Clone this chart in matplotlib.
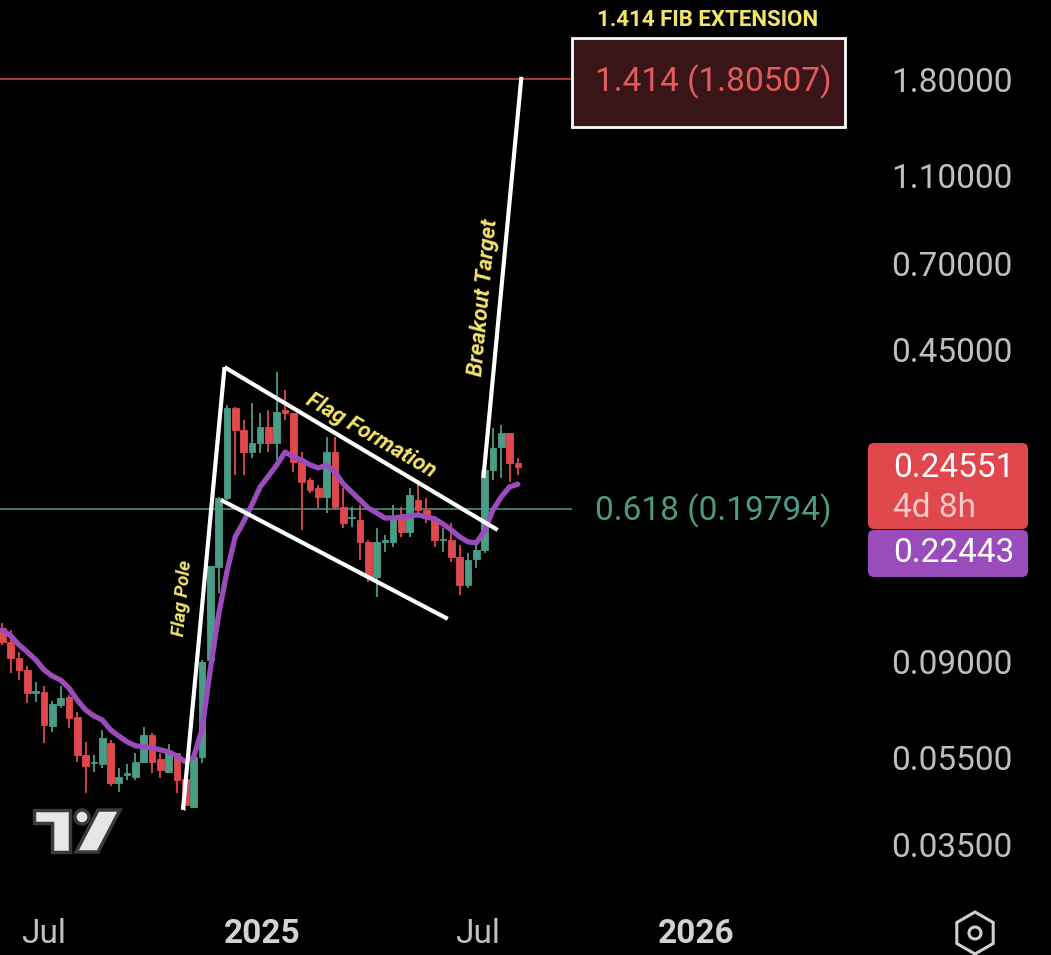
import matplotlib
matplotlib.use('Agg')
import matplotlib.pyplot as plt
import matplotlib.dates as mdates
from matplotlib.patches import Rectangle, FancyBboxPatch, Polygon, Circle, RegularPolygon
from matplotlib.ticker import NullLocator
import numpy as np
import pandas as pd

plt.rcParams['font.family'] = ['Roboto', 'DejaVu Sans']

# weekly candles
opens = [0.1070, 0.0996, 0.0917, 0.0862, 0.0765, 0.0769, 0.0646, 0.0719, 0.0750, 0.0676,
         0.0557, 0.0534, 0.0531, 0.0592, 0.0481, 0.0502, 0.0497, 0.0537, 0.0617, 0.0545,
         0.0510, 0.0562, 0.0492, 0.0425, 0.0550, 0.0908, 0.1467, 0.2090, 0.3322, 0.2967,
         0.2648, 0.2775, 0.3013, 0.2775, 0.3288, 0.3237, 0.2516, 0.2293, 0.2201, 0.2101,
         0.2648, 0.1995, 0.1885, 0.1866, 0.1667, 0.1391, 0.1667, 0.1667, 0.1904, 0.1754,
         0.2069, 0.1965, 0.1885, 0.1684, 0.1684, 0.1542, 0.1334, 0.1527, 0.1599, 0.2414,
         0.2717, 0.2921, 0.2503]
closes = [0.0996, 0.0917, 0.0862, 0.0765, 0.0773, 0.0649, 0.0723, 0.0746, 0.0673, 0.0557,
          0.0526, 0.0537, 0.0607, 0.0481, 0.0497, 0.0507, 0.0537, 0.0617, 0.0537, 0.0515,
          0.0565, 0.0489, 0.0430, 0.0550, 0.0899, 0.1473, 0.2090, 0.3322, 0.2967, 0.2648,
          0.2775, 0.3013, 0.2775, 0.3254, 0.3237, 0.2516, 0.2270, 0.2178, 0.2101, 0.2648,
          0.1995, 0.1837, 0.1895, 0.1667, 0.1391, 0.1667, 0.1684, 0.1895, 0.1754, 0.2122,
          0.1965, 0.1885, 0.1684, 0.1693, 0.1542, 0.1334, 0.1519, 0.1599, 0.2414, 0.2704,
          0.2921, 0.2503, 0.24551]
highs = [0.1098, 0.1059, 0.0945, 0.0880, 0.0810, 0.0793, 0.0734, 0.0793, 0.0757, 0.0694,
         0.0595, 0.0557, 0.0633, 0.0601, 0.0520, 0.0531, 0.0562, 0.0643, 0.0623, 0.0562,
         0.0589, 0.0562, 0.0497, 0.0571, 0.0908, 0.1473, 0.2101, 0.3374, 0.3340, 0.3124,
         0.3409, 0.3237, 0.3288, 0.3999, 0.3645, 0.3237, 0.2648, 0.2317, 0.2235, 0.2861,
         0.2861, 0.2200, 0.1995, 0.2016, 0.1684, 0.1790, 0.1728, 0.2016, 0.1995, 0.2200,
         0.2293, 0.2090, 0.1904, 0.1790, 0.1837, 0.1640, 0.1574, 0.1658, 0.2516, 0.2998,
         0.3045, 0.2921, 0.2568]
lows = [0.0980, 0.0849, 0.0818, 0.0727, 0.0731, 0.0592, 0.0626, 0.0708, 0.0640, 0.0537,
        0.0457, 0.0510, 0.0520, 0.0474, 0.0459, 0.0489, 0.0489, 0.0534, 0.0507, 0.0494,
        0.0507, 0.0457, 0.0417, 0.0423, 0.0534, 0.0884, 0.1281, 0.2069, 0.2353, 0.2353,
        0.2568, 0.2635, 0.2648, 0.2542, 0.3124, 0.2389, 0.1772, 0.2144, 0.1985, 0.1935,
        0.1965, 0.1790, 0.1800, 0.1519, 0.1356, 0.1255, 0.1583, 0.1624, 0.1710, 0.1710,
        0.1895, 0.1837, 0.1624, 0.1583, 0.1503, 0.1268, 0.1315, 0.1458, 0.1574, 0.2293,
        0.2317, 0.2270, 0.2353]
# moving average (purple)
ma = [0.1059, 0.1027, 0.0980, 0.0945, 0.0908, 0.0862, 0.0835, 0.0818, 0.0785, 0.0738,
      0.0701, 0.0680, 0.0666, 0.0633, 0.0613, 0.0595, 0.0583, 0.0580, 0.0577, 0.0571,
      0.0565, 0.0553, 0.0537, 0.0550, 0.0633, 0.0862, 0.1144, 0.1428, 0.1710, 0.1847,
      0.2016, 0.2212, 0.2340, 0.2478, 0.2648, 0.2581, 0.2542, 0.2478, 0.2439, 0.2478,
      0.2389, 0.2246, 0.2156, 0.2069, 0.1985, 0.1936, 0.1885, 0.1885, 0.1895, 0.1904,
      0.1915, 0.1895, 0.1876, 0.1828, 0.1772, 0.1710, 0.1667, 0.1658, 0.1763, 0.1965,
      0.2101, 0.2212, 0.22443]

first_week = '2024-05-27'

# drawings
pole_dates = ['2024-10-26', '2024-11-30']
pole_prices = [0.0419, 0.410]
flag_top_dates = ['2024-11-30', '2025-07-18']
flag_top_prices = [0.410, 0.1772]
flag_bot_dates = ['2024-11-27', '2025-06-06']
flag_bot_prices = [0.2069, 0.1121]
target_dates = ['2025-07-06', '2025-08-07']
target_prices = [0.2317, 1.83]

fib_ext = 1.80507
fib_618 = 0.19794
fib_end = '2025-09-19'

yticks = [1.8, 1.1, 0.7, 0.45, 0.09, 0.055, 0.035]
xtick_dates = ['2024-07-01', '2025-01-01', '2025-07-01', '2026-01-01']
xtick_labels = ['Jul', '2025', 'Jul', '2026']

GREEN = '#4b9c87'
RED = '#e0484e'
PURPLE = '#9b4cbc'
YELLOW = '#f3e46c'
AXIS_TXT = '#bfbfbf'
FS = 24

W, H = 1051, 955
fig = plt.figure(figsize=(W / 100, H / 100), dpi=100, facecolor='black')
ax = fig.add_axes([0, 1 - 900 / H, 865 / W, 900 / H])
ax.set_facecolor('black')
ax.set_yscale('log')

x = mdates.date2num(pd.date_range(first_week, periods=len(opens), freq='7D'))
o = np.array(opens)
c = np.array(closes)
colors = np.where(c >= o, GREEN, RED)

ax.vlines(x, lows, highs, colors=colors, lw=1.3, zorder=2)
ax.bar(x, np.abs(c - o), bottom=np.minimum(o, c), width=5.6, color=colors,
       edgecolor=colors, linewidth=0.6, zorder=2)
ax.plot(x, ma, color=PURPLE, lw=3.8, solid_capstyle='round', solid_joinstyle='round', zorder=3)

# fib levels
x_jul = mdates.date2num(pd.Timestamp('2024-07-01'))
ppd = 1.1876
xl = (x_jul - 44 / ppd, x_jul + (865 - 44) / ppd)
x_fib_end = mdates.date2num(pd.Timestamp(fib_end))
ax.hlines(fib_ext, xl[0], x_fib_end, color='#d9484e', lw=1.1, zorder=1)
ax.hlines(fib_618, xl[0], x_fib_end, color='#4e9a87', lw=1.1, zorder=1)

# white pattern lines
for d, p in [(pole_dates, pole_prices), (flag_top_dates, flag_top_prices),
             (flag_bot_dates, flag_bot_prices), (target_dates, target_prices)]:
    ax.plot(mdates.date2num(pd.to_datetime(d)), p, color='white', lw=3.0,
            solid_capstyle='butt', zorder=4)

ax.set_xlim(*xl)
ax.set_ylim(0.02634, 2.718)
for s in ax.spines.values():
    s.set_visible(False)

ax.yaxis.tick_right()
ax.set_yticks(yticks)
ax.set_yticklabels([f'{v:.5f}' for v in yticks])
ax.yaxis.set_minor_locator(NullLocator())
ax.tick_params(axis='y', length=0, pad=19, labelsize=FS, labelcolor=AXIS_TXT)

ax.set_xticks(mdates.date2num(pd.to_datetime(xtick_dates)))
ax.set_xticklabels(xtick_labels)
ax.tick_params(axis='x', length=0, pad=13, labelsize=FS, labelcolor=AXIS_TXT)
for lbl in ax.get_xticklabels():
    if lbl.get_text().isdigit():
        lbl.set_fontweight('bold')
        lbl.set_color('#d2d2d2')

# overlay in pixel coordinates for labels and icons
ov = fig.add_axes([0, 0, 1, 1])
ov.set_xlim(0, W)
ov.set_ylim(H, 0)
ov.axis('off')
ov.patch.set_alpha(0)

ov.add_patch(Rectangle((572, 38), 273, 89, facecolor='#3a1517', edgecolor='white', lw=2))
ov.text(713, 82, f'1.414 ({fib_ext:.5f})', color='#e35b5c', fontsize=FS,
        ha='center', va='center')
ov.text(708, 20, '1.414 FIB EXTENSION', color=YELLOW, fontsize=16, fontweight='bold',
        ha='center', va='center')
ov.text(595, 511, f'0.618 ({fib_618:.5f})', color='#4e9a87', fontsize=FS,
        ha='left', va='center')

ov.add_patch(FancyBboxPatch((868, 443), 160, 86, boxstyle='round,pad=0,rounding_size=6',
                            facecolor='#e0484e', edgecolor='none'))
ov.add_patch(FancyBboxPatch((868, 530), 160, 47, boxstyle='round,pad=0,rounding_size=6',
                            facecolor=PURPLE, edgecolor='none'))
ov.text(893, 468, f'{closes[-1]:.5f}', color='white', fontsize=FS, ha='left', va='center')
ov.text(893, 508, '4d 8h', color='#f6c9cb', fontsize=FS, ha='left', va='center')
ov.text(893, 553, f'{ma[-1]:.5f}', color='white', fontsize=FS, ha='left', va='center')

# pattern annotations
ann = dict(color=YELLOW, fontweight='bold', fontstyle='italic', ha='center', va='center',
           rotation_mode='anchor')
ov.text(183, 598, 'Flag Pole', fontsize=13.5, rotation=84.7, **ann)
ov.text(371, 436, 'Flag Formation', fontsize=16, rotation=-30.3, **ann)
ov.text(483, 298, 'Breakout Target', fontsize=16, rotation=84.6, **ann)

# logo
logo_kw = dict(facecolor='#e6e6e6', edgecolor='#3a3a3a', lw=2.5, zorder=5)
ov.add_patch(Polygon([(34, 810), (70, 810), (70, 852), (52, 852), (52, 823), (34, 823)], **logo_kw))
ov.add_patch(Circle((82, 817), 7, **logo_kw))
ov.add_patch(Polygon([(98, 810), (120, 810), (98, 852), (76, 852)], **logo_kw))

# settings icon
ov.add_patch(RegularPolygon((975, 933), 6, radius=21, facecolor='none', edgecolor='#d0d0d0', lw=2.2))
ov.add_patch(Circle((975, 933), 6, facecolor='none', edgecolor='#d0d0d0', lw=2.2))

fig.savefig('out.png', dpi=100, facecolor='black')
